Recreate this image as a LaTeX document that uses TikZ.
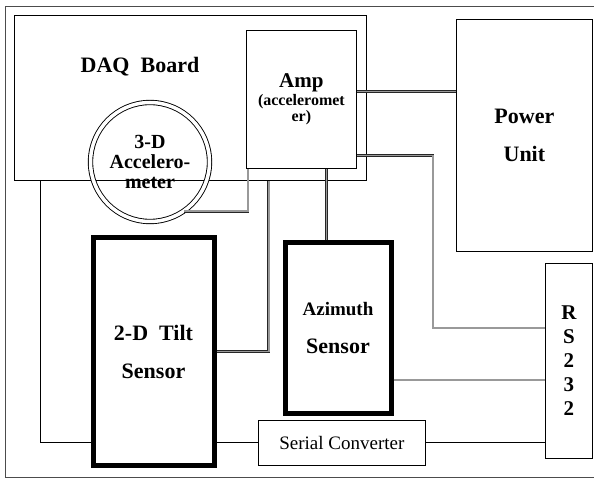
\documentclass[tikz,border=0pt]{standalone}
\usepackage{fontspec}
\setmainfont{Liberation Serif}
\begin{document}
\begin{tikzpicture}[x=1pt,y=-1pt]
\tikzset{
  box/.style={draw, line width=0.8pt, inner sep=0pt, anchor=north west},
  heavybox/.style={draw, line width=5pt, inner sep=0pt, anchor=north west},
  cable/.style={draw=black!85, double=black!40, double distance=1.4pt, line width=0.75pt},
  wire/.style={draw, line width=0.9pt},
  bigtext/.style={font=\bfseries\fontsize{22}{38}\selectfont, align=center},
}
\useasboundingbox (0,0) rectangle (594,478);
\clip (0,0) rectangle (594,478);
\draw[black!70, line width=0.8pt] (600,6) -- (5,6) -- (5,477) -- (600,477);

% boxes
\node[box, minimum width=352pt, minimum height=165pt] (daq) at (14,15) {};
\node[bigtext] (daqtext) at (140,67) {DAQ\ \ Board};
\node[box, minimum width=110pt, minimum height=138pt, align=center,
  font=\bfseries\fontsize{16}{16}\selectfont] (amp) at (246,30)
  {{\fontsize{21}{20}\selectfont Amp}\\[2pt] (acceleromet\\er)};
\node[draw, circle, double, double distance=3.5pt, line width=0.9pt, minimum size=119pt,
  inner sep=0pt, align=center, font=\bfseries\fontsize{20}{20}\selectfont] (acc) at (150,162)
  {3-D\\Accelero-\\meter};
\node[box, minimum width=136pt, minimum height=232pt, bigtext] (pow) at (456,19) {Power\\Unit};
\node[heavybox, minimum width=121pt, minimum height=227pt, bigtext] (tilt) at (90.5,235.5)
  {2-D\ \ Tilt\\Sensor};
\node[heavybox, minimum width=106pt, minimum height=170pt, bigtext] (azi) at (282.5,240.5)
  {{\fontsize{19}{37}\selectfont Azimuth}\\Sensor};
\node[box, minimum width=167pt, minimum height=45pt, font=\fontsize{19}{20}\selectfont] (ser) at (258,420)
  {Serial Converter};
\node[box, minimum width=47pt, minimum height=195pt, align=center,
  font=\bfseries\fontsize{21}{24}\selectfont] (rs) at (545,263) {R\\S\\2\\3\\2};

% wiring
\coordinate (jct) at (433,328);
\draw[wire] (tilt.west |- ser.west) -| ([xshift=26pt]daq.south west);
\draw[wire] (tilt.east |- ser.west) -- (ser.west);
\draw[wire] (ser.east) -- (ser.east -| rs.west);
\draw[cable] (acc.-55) -| ([xshift=2pt]amp.south west);
\draw[cable] (tilt.east) -| ([xshift=-98pt]daq.south east);
\draw[cable] ([xshift=25pt]amp.south) -- ([xshift=25pt]amp.south |- azi.north);
\draw[cable] ([yshift=8pt]amp.east) -- ([yshift=8pt]amp.east -| pow.west);
\draw[cable] ([yshift=-56pt]amp.east) -| (jct) -- (jct -| rs.west);
\draw[cable] ([yshift=-52pt]azi.east) -- ([yshift=-52pt]azi.east -| rs.west);
\end{tikzpicture}
\end{document}
